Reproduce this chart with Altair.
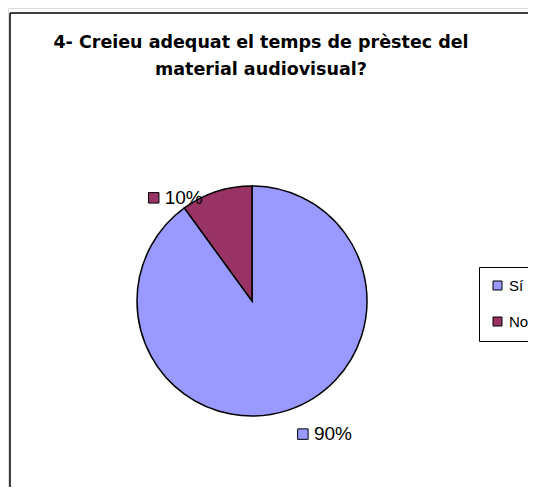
import altair as alt
import pandas as pd

categories = ["Sí", "No"]
values = [90, 10]
colors = ["#9999FF", "#993366"]
title_lines = ["4- Creieu adequat el temps de prèstec del", "material audiovisual?"]

df = pd.DataFrame({"cat": categories, "value": values, "idx": list(range(len(categories)))})

W, H = 520, 479
CX, CY, R = 244, 293, 115
LR = 142.5

color = alt.Color(
    "cat:N",
    scale=alt.Scale(domain=categories, range=colors),
    sort=categories,
    legend=alt.Legend(
        title=None,
        orient="none",
        legendX=471,
        legendY=259,
        symbolType="square",
        symbolSize=81,
        symbolStrokeColor="black",
        symbolStrokeWidth=1,
        symbolOpacity=1,
        labelFont="Liberation Sans",
        labelFontSize=15,
        labelColor="black",
        rowPadding=20,
        padding=11,
        strokeColor="black",
        fillColor="white",
        labelOffset=4,
    ),
)

dummy = pd.DataFrame({"a": [0]})

left_edge = alt.Chart(dummy).mark_rule(color="black", strokeWidth=1.5).encode(
    x=alt.value(2), y=alt.value(5), y2=alt.value(H)
)
top_edge = alt.Chart(dummy).mark_rule(color="black", strokeWidth=1.5).encode(
    x=alt.value(2), x2=alt.value(W), y=alt.value(5)
)

pie = alt.Chart(df).mark_arc(outerRadius=R, stroke="black", strokeWidth=1.5).encode(
    theta=alt.Theta("value:Q", stack=True),
    color=color,
    order=alt.Order("idx:Q"),
    x=alt.value(CX),
    y=alt.value(CY),
)

lab = alt.Chart(df).transform_joinaggregate(total="sum(value)").transform_window(
    cum="sum(value)", sort=[alt.SortField("idx")]
).transform_calculate(
    frac="datum.value / datum.total",
    ang="(datum.cum - datum.value / 2) / datum.total * 2 * PI + (datum.cat == 'No' ? -0.447 : -0.051)",
).transform_calculate(
    px=f"{CX} + {LR} * sin(datum.ang)",
    py=f"{CY} - {LR} * cos(datum.ang)",
)

squares = lab.mark_square(size=110, filled=True, stroke="black", strokeWidth=1, opacity=1).encode(
    x=alt.X("px:Q", scale=None),
    y=alt.Y("py:Q", scale=None),
    color=color,
)

texts = lab.mark_text(
    align="left", baseline="middle", dx=11, fontSize=19, font="Liberation Sans", color="black"
).encode(
    x=alt.X("px:Q", scale=None),
    y=alt.Y("py:Q", scale=None),
    text=alt.Text("frac:Q", format=".0%"),
)

t1 = alt.Chart(dummy).mark_text(
    text=title_lines[0], font="DejaVu Sans", fontWeight="bold", fontSize=17.5,
    align="center", baseline="alphabetic", color="black"
).encode(x=alt.value(253), y=alt.value(40))

t2 = alt.Chart(dummy).mark_text(
    text=title_lines[1], font="DejaVu Sans", fontWeight="bold", fontSize=17.5,
    align="center", baseline="alphabetic", color="black"
).encode(x=alt.value(253), y=alt.value(67))

chart = alt.layer(left_edge, top_edge, pie, squares, texts, t1, t2).properties(
    width=W, height=H, autosize=alt.AutoSizeParams(type="none"), padding=0
).configure_view(stroke=None).configure(background="white")

chart.save("out.html", embed_options={"renderer": "svg", "actions": False})
